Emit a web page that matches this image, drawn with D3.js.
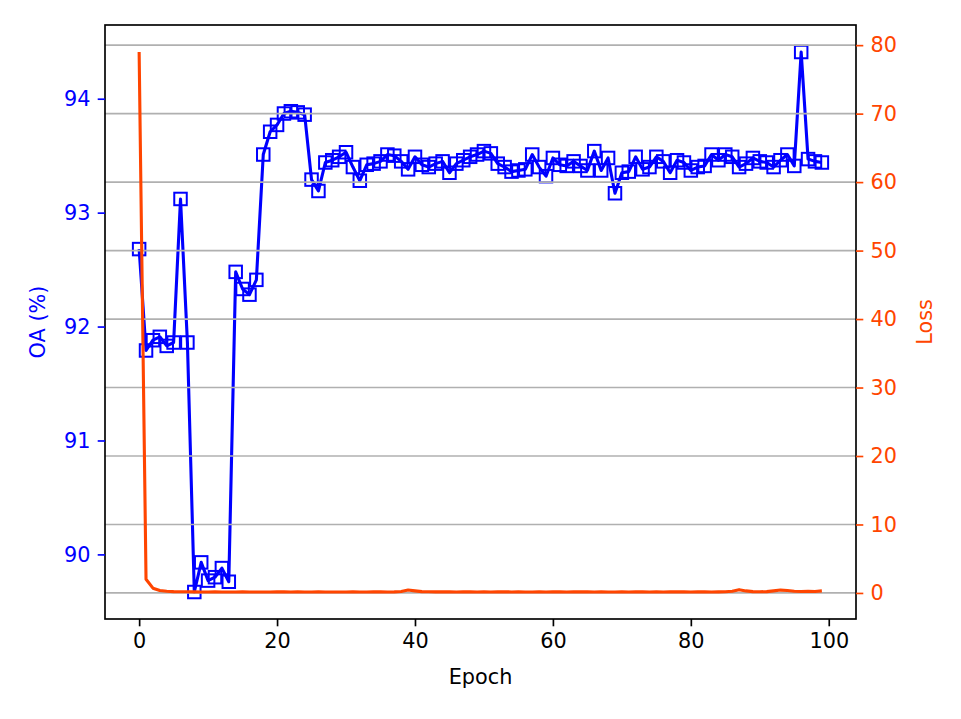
<!DOCTYPE html>
<html>
<head>
<meta charset="utf-8">
<script src="https://cdn.jsdelivr.net/npm/d3@7"></script>
<style>
  body { margin: 0; background: #fff; }
  text { font-family: "DejaVu Sans", sans-serif; }
</style>
</head>
<body>
<div id="chart"></div>
<script>
// OA (%) per epoch
const oaValues = [
  92.68, 91.79, 91.88, 91.91, 91.83, 91.86, 93.12, 91.86, 89.67, 89.93,
  89.77, 89.80, 89.88, 89.76, 92.48, 92.33, 92.28, 92.41, 93.51, 93.71,
  93.77, 93.87, 93.89, 93.88, 93.86, 93.29, 93.19, 93.44, 93.46, 93.49,
  93.53, 93.40, 93.28, 93.42, 93.43, 93.45, 93.51, 93.50, 93.45, 93.38,
  93.49, 93.42, 93.40, 93.43, 93.45, 93.35, 93.43, 93.46, 93.49, 93.51,
  93.54, 93.52, 93.43, 93.40, 93.36, 93.37, 93.38, 93.51, 93.40, 93.32,
  93.48, 93.42, 93.41, 93.45, 93.41, 93.37, 93.54, 93.37, 93.48, 93.17,
  93.35, 93.36, 93.49, 93.38, 93.40, 93.49, 93.45, 93.35, 93.46, 93.44,
  93.37, 93.40, 93.41, 93.51, 93.46, 93.51, 93.49, 93.40, 93.43, 93.48,
  93.45, 93.44, 93.40, 93.46, 93.51, 93.41, 94.41, 93.47, 93.45, 93.44
];

// training loss per epoch
const lossValues = [
  79.0, 2.0, 0.7, 0.35, 0.25, 0.2, 0.18, 0.17, 0.16, 0.15,
  0.15, 0.16, 0.15, 0.14, 0.15, 0.16, 0.15, 0.15, 0.14, 0.15,
  0.18, 0.16, 0.15, 0.16, 0.15, 0.15, 0.16, 0.15, 0.15, 0.14,
  0.15, 0.16, 0.15, 0.15, 0.18, 0.16, 0.15, 0.16, 0.22, 0.42,
  0.3, 0.2, 0.17, 0.16, 0.18, 0.16, 0.15, 0.17, 0.16, 0.15,
  0.16, 0.15, 0.18, 0.16, 0.15, 0.16, 0.15, 0.14, 0.16, 0.15,
  0.17, 0.16, 0.15, 0.16, 0.18, 0.16, 0.15, 0.16, 0.15, 0.15,
  0.16, 0.15, 0.17, 0.16, 0.15, 0.16, 0.15, 0.16, 0.18, 0.16,
  0.15, 0.17, 0.16, 0.15, 0.16, 0.18, 0.25, 0.48, 0.3, 0.2,
  0.17, 0.2, 0.3, 0.42, 0.35, 0.25, 0.22, 0.24, 0.22, 0.3
];

const xTicks = [0, 20, 40, 60, 80, 100];
const oaTicks = [90, 91, 92, 93, 94];
const lossTicks = [0, 10, 20, 30, 40, 50, 60, 70, 80];

const W = 961, H = 719;
const box = {left: 105, right: 856, top: 25, bottom: 619};
const blue = "#0000ff", orange = "#ff4500";
const fs = 20.8, tickLen = 7.3, pad = 7.3;

// matplotlib-like 5% margins
function padded(vals, n) {
  const [lo, hi] = d3.extent(vals);
  const m = (hi - lo) * 0.05;
  return [lo - m, hi + m];
}

const x = d3.scaleLinear()
  .domain(padded([0, oaValues.length - 1]))
  .range([box.left, box.right]);
const yOA = d3.scaleLinear()
  .domain(padded(oaValues))
  .range([box.bottom, box.top]);
const yLoss = d3.scaleLinear()
  .domain(padded(lossValues))
  .range([box.bottom, box.top]);

const svg = d3.select("#chart").append("svg")
  .attr("width", W)
  .attr("height", H);

svg.append("rect")
  .attr("width", W).attr("height", H).attr("fill", "#fff");

// OA line + square markers
const oaLine = d3.line()
  .x((d, i) => x(i))
  .y(d => yOA(d));

svg.append("path")
  .datum(oaValues)
  .attr("d", oaLine)
  .attr("fill", "none")
  .attr("stroke", blue)
  .attr("stroke-width", 3.1)
  .attr("stroke-linejoin", "round");

const ms = 12.5;
svg.selectAll("rect.mk")
    .data(oaValues)
  .enter().append("rect")
    .attr("class", "mk")
    .attr("x", (d, i) => x(i) - ms / 2)
    .attr("y", d => yOA(d) - ms / 2)
    .attr("width", ms)
    .attr("height", ms)
    .attr("fill", "none")
    .attr("stroke", blue)
    .attr("stroke-width", 2);

// grid from the loss axis
svg.append("g")
  .selectAll("line")
  .data(lossTicks)
  .enter().append("line")
    .attr("x1", box.left).attr("x2", box.right)
    .attr("y1", d => yLoss(d)).attr("y2", d => yLoss(d))
    .attr("stroke", "#b0b0b0")
    .attr("stroke-width", 1.67);

// loss line
const lossLine = d3.line()
  .x((d, i) => x(i))
  .y(d => yLoss(d));

svg.append("path")
  .datum(lossValues)
  .attr("d", lossLine)
  .attr("fill", "none")
  .attr("stroke", orange)
  .attr("stroke-width", 3.1)
  .attr("stroke-linejoin", "round");

// frame
svg.append("rect")
  .attr("x", box.left).attr("y", box.top)
  .attr("width", box.right - box.left)
  .attr("height", box.bottom - box.top)
  .attr("fill", "none")
  .attr("stroke", "#000")
  .attr("stroke-width", 1.67);

// axes
function styleAxis(g, color) {
  g.select(".domain").remove();
  g.selectAll(".tick line").attr("stroke", color).attr("stroke-width", 1.67);
  g.selectAll(".tick text")
    .attr("fill", color)
    .style("font-size", fs + "px")
    .style("font-family", "'DejaVu Sans', sans-serif");
}

svg.append("g")
  .attr("transform", "translate(0," + box.bottom + ")")
  .call(d3.axisBottom(x).tickValues(xTicks).tickSize(tickLen).tickPadding(pad).tickFormat(d3.format("d")))
  .call(g => styleAxis(g, "#000"));

svg.append("g")
  .attr("transform", "translate(" + box.left + ",0)")
  .call(d3.axisLeft(yOA).tickValues(oaTicks).tickSize(tickLen).tickPadding(pad).tickFormat(d3.format("d")))
  .call(g => styleAxis(g, blue));

svg.append("g")
  .attr("transform", "translate(" + box.right + ",0)")
  .call(d3.axisRight(yLoss).tickValues(lossTicks).tickSize(tickLen).tickPadding(pad).tickFormat(d3.format("d")))
  .call(g => styleAxis(g, orange));

// axis labels
svg.append("text")
  .attr("x", (box.left + box.right) / 2)
  .attr("y", 684)
  .attr("text-anchor", "middle")
  .style("font-size", fs + "px")
  .text("Epoch");

svg.append("text")
  .attr("transform", "translate(45," + (box.top + box.bottom) / 2 + ") rotate(-90)")
  .attr("text-anchor", "middle")
  .attr("fill", blue)
  .style("font-size", fs + "px")
  .text("OA (%)");

svg.append("text")
  .attr("transform", "translate(932," + (box.top + box.bottom) / 2 + ") rotate(-90)")
  .attr("text-anchor", "middle")
  .attr("fill", orange)
  .style("font-size", fs + "px")
  .text("Loss");
</script>
</body>
</html>
